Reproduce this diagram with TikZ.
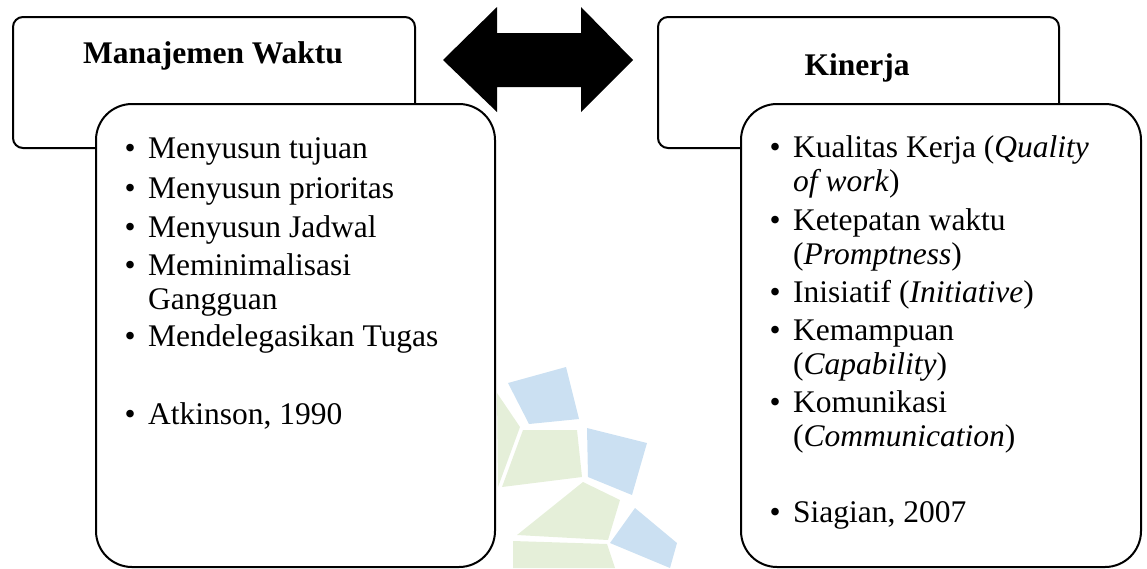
\documentclass[tikz,border=0pt]{standalone}
\usepackage{fontspec}
\setmainfont{Liberation Serif}
\definecolor{wmblue}{RGB}{203,224,242}
\definecolor{wmgreen}{RGB}{229,239,217}
\begin{document}
\begin{tikzpicture}[x=1pt,y=-1pt,
  hdrbox/.style={draw=black, line width=2pt, rounded corners=10pt, fill=white, anchor=north west, inner sep=0pt},
  bodybox/.style={draw=black, line width=2pt, rounded corners=36pt, fill=white, anchor=north west, inner sep=0pt},
  ttl/.style={font=\fontsize{31.5}{34}\selectfont\bfseries, anchor=base, inner sep=0pt},
  itm/.style={font=\fontsize{31.5}{34}\selectfont, anchor=base west, inner sep=0pt}]
\newcommand{\bul}{\llap{\textbullet\hspace{12.5pt}}}
\useasboundingbox (0,0) rectangle (1147,568);
% watermark
\fill[wmgreen] (497,393) -- (520,427) -- (498,487) -- cycle;
\fill[wmgreen] (523,430) -- (577,430) -- (582,477) -- (502,487) -- cycle;
\fill[wmgreen] (583,482) -- (620,500) -- (608,540) -- (517,535) -- cycle;
\fill[wmgreen] (513,541) -- (607,544) -- (615,568) -- (513,568) -- cycle;
\fill[wmblue] (508,383) -- (566,367) -- (579,419) -- (529,424) -- cycle;
\fill[wmblue] (587,428) -- (647,443) -- (632,495) -- (588,477) -- cycle;
\fill[wmblue] (635,508) -- (677,543) -- (670,568) -- (610,543) -- cycle;
% boxes
\node[hdrbox, minimum width=402pt, minimum height=131pt] (lh) at (12,16) {};
\node[hdrbox, minimum width=401pt, minimum height=131pt] (rh) at (657,16) {};
\node[bodybox, minimum width=399pt, minimum height=463pt] (lb) at (95,103) {};
\node[bodybox, minimum width=400pt, minimum height=463pt] (rb) at (740,103) {};
% arrow
\fill[black] (443,60) -- (497,7) -- (497,33) -- (581,33) -- (581,7) -- (633,60)
  -- (581,112) -- (581,87) -- (497,87) -- (497,112) -- cycle;
% titles
\node[ttl] (lt) at (213,63) {Manajemen Waktu};
\node[ttl] (rt) at (857,75) {Kinerja};
% left items
\node[itm] (l1) at (148,158) {\bul Menyusun tujuan};
\node[itm] (l2) at (148,198) {\bul Menyusun prioritas};
\node[itm] (l3) at (148,237) {\bul Menyusun Jadwal};
\node[itm] (l4) at (148,275) {\begin{tabular}[t]{@{}l@{}}\bul Meminimalisasi\\ Gangguan\end{tabular}};
\node[itm] (l5) at (148,346) {\bul Mendelegasikan Tugas};
\node[itm] (l6) at (148,424) {\bul Atkinson, 1990};
% right items
\node[itm] (r1) at (793,157) {\begin{tabular}[t]{@{}l@{}}\bul Kualitas Kerja (\textit{Quality}\\ \textit{of work})\end{tabular}};
\node[itm] (r2) at (793,230) {\begin{tabular}[t]{@{}l@{}}\bul Ketepatan waktu\\ (\textit{Promptness})\end{tabular}};
\node[itm] (r3) at (793,302) {\bul Inisiatif (\textit{Initiative})};
\node[itm] (r4) at (793,340) {\begin{tabular}[t]{@{}l@{}}\bul Kemampuan\\ (\textit{Capability})\end{tabular}};
\node[itm] (r5) at (793,412) {\begin{tabular}[t]{@{}l@{}}\bul Komunikasi\\ (\textit{Communication})\end{tabular}};
\node[itm] (r6) at (793,522) {\bul Siagian, 2007};
\end{tikzpicture}
\end{document}
